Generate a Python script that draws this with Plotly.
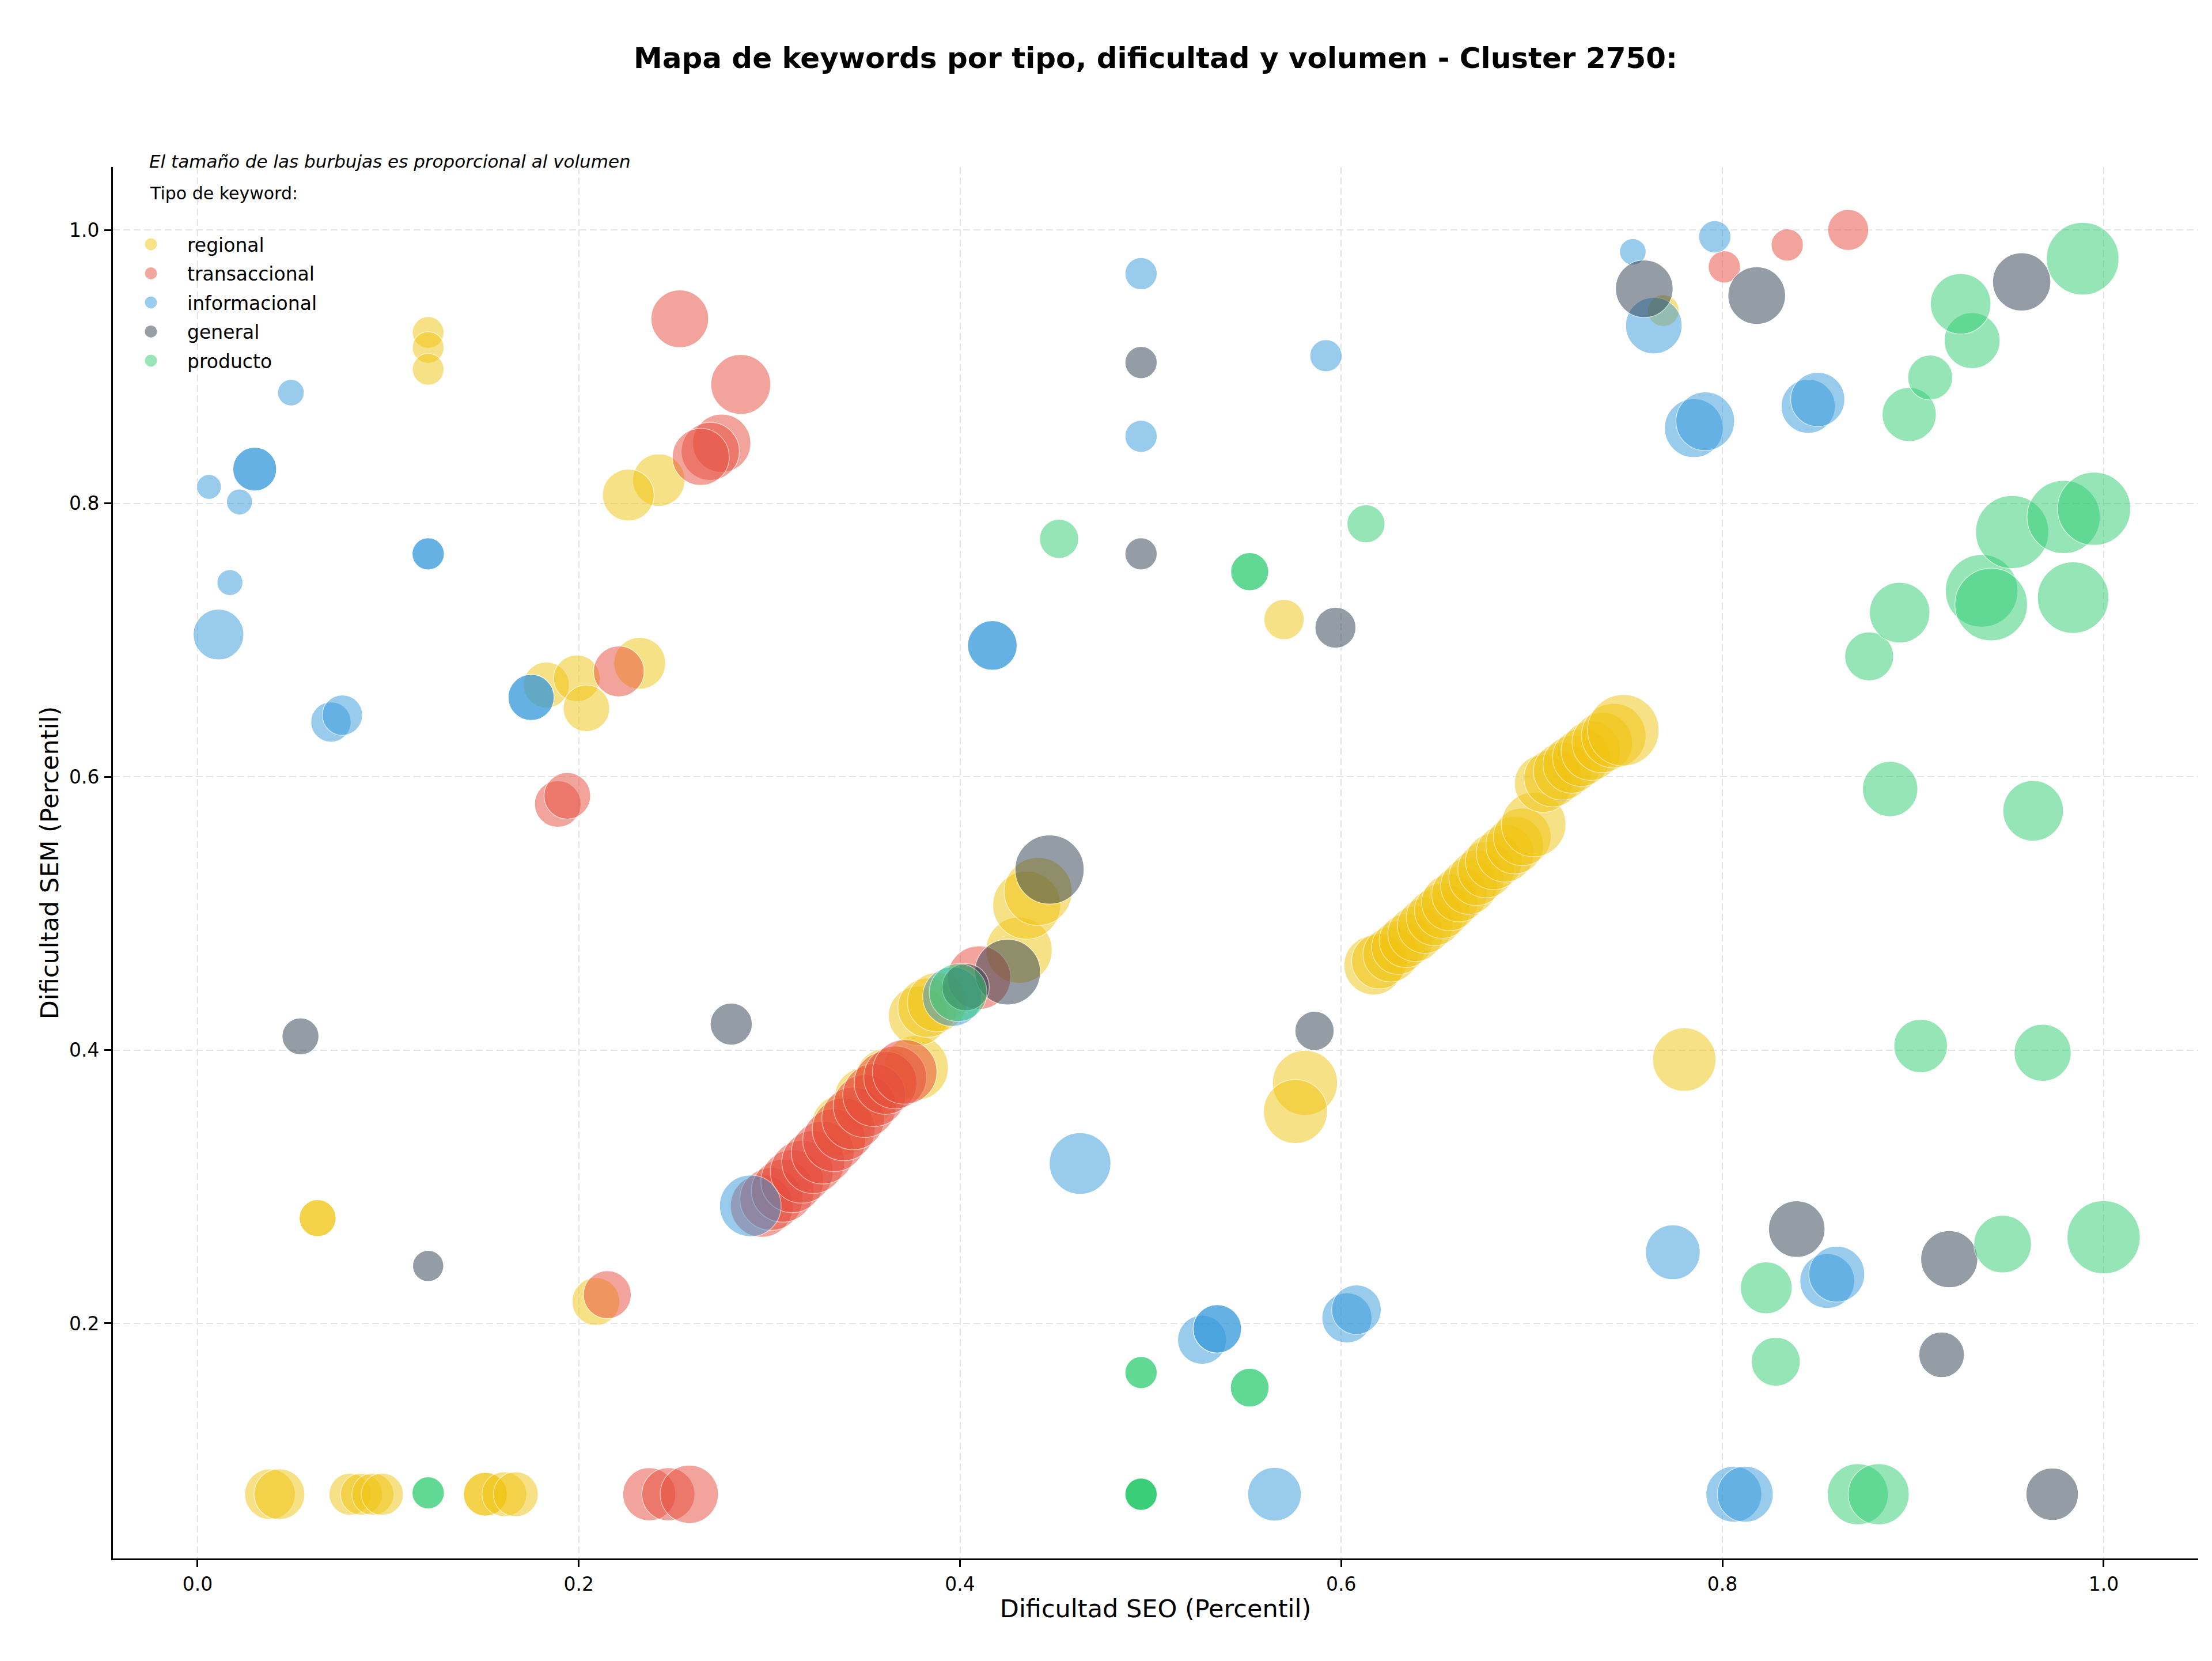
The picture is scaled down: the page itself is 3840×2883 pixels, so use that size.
import numpy as np
import plotly.graph_objects as go

# ---------------- data ----------------
categories = ["regional", "transaccional", "informacional", "general", "producto"]

reg_seo = [0.038, 0.043, 0.080, 0.086, 0.092, 0.097, 0.151, 0.151, 0.161, 0.167,
           0.063, 0.063, 0.121, 0.121, 0.121, 0.242, 0.226,
           0.183, 0.199, 0.204, 0.232, 0.209, 0.570, 0.581, 0.576, 0.780, 0.769,
           0.338, 0.350, 0.361, 0.377, 0.378, 0.383, 0.388, 0.431, 0.435, 0.441,
           0.617, 0.620, 0.626, 0.630, 0.634, 0.639, 0.644, 0.649, 0.653, 0.657,
           0.662, 0.667, 0.671, 0.676, 0.680, 0.686, 0.691, 0.695, 0.701,
           0.706, 0.711, 0.716, 0.721, 0.726, 0.731, 0.737, 0.743, 0.748]
reg_sem = [0.075, 0.075, 0.075, 0.075, 0.075, 0.075, 0.075, 0.075, 0.075, 0.075,
           0.277, 0.277, 0.925, 0.914, 0.898, 0.817, 0.806,
           0.667, 0.672, 0.650, 0.683, 0.216, 0.715, 0.376, 0.355, 0.393, 0.941,
           0.345, 0.365, 0.379, 0.387, 0.425, 0.431, 0.435, 0.473, 0.506, 0.516,
           0.462, 0.465, 0.470, 0.475, 0.480, 0.485, 0.491, 0.497, 0.502, 0.508,
           0.514, 0.520, 0.526, 0.532, 0.538, 0.544, 0.550, 0.556, 0.565,
           0.595, 0.599, 0.604, 0.609, 0.614, 0.619, 0.625, 0.630, 0.634]
reg_vol = [310, 310, 213, 213, 213, 213, 231, 231, 243, 243,
           164, 164, 121, 121, 121, 331, 324,
           256, 262, 262, 324, 276, 196, 511, 493, 484, 121,
           441, 441, 441, 502, 424, 424, 424, 529, 557, 557,
           424, 369, 369, 346, 346, 369, 369, 384, 369, 384,
           369, 384, 369, 384, 384, 400, 400, 400, 502,
           400, 400, 400, 400, 400, 424, 441, 502, 615]

tra_seo = [0.237, 0.247, 0.258, 0.253, 0.285, 0.275, 0.269, 0.264, 0.221,
           0.189, 0.194, 0.215, 0.801, 0.834, 0.866,
           0.296, 0.301, 0.307, 0.312, 0.317, 0.323, 0.328, 0.334, 0.339,
           0.344, 0.350, 0.355, 0.361, 0.366, 0.371, 0.410]
tra_sem = [0.075, 0.075, 0.075, 0.935, 0.887, 0.844, 0.838, 0.834, 0.677,
           0.580, 0.586, 0.221, 0.973, 0.989, 1.000,
           0.286, 0.291, 0.297, 0.304, 0.311, 0.318, 0.325, 0.334, 0.342,
           0.350, 0.359, 0.367, 0.376, 0.380, 0.384, 0.453]
tra_vol = [339, 339, 408, 400, 433, 408, 408, 392, 310,
           262, 262, 276, 125, 125, 202,
           475, 475, 475, 475, 475, 475, 475, 475, 475,
           475, 475, 475, 475, 475, 502, 484]

inf_seo = [0.049, 0.030, 0.030, 0.006, 0.022, 0.121, 0.121, 0.017, 0.011, 0.070,
           0.076, 0.175, 0.175, 0.417, 0.417, 0.495, 0.495, 0.592, 0.290, 0.396,
           0.463, 0.527, 0.535, 0.535, 0.603, 0.608, 0.565, 0.806, 0.812, 0.774,
           0.855, 0.860, 0.753, 0.796, 0.764, 0.785, 0.791, 0.845, 0.850]
inf_sem = [0.881, 0.825, 0.825, 0.812, 0.801, 0.763, 0.763, 0.742, 0.704, 0.640,
           0.645, 0.658, 0.658, 0.696, 0.696, 0.968, 0.849, 0.908, 0.286, 0.439,
           0.317, 0.188, 0.196, 0.196, 0.204, 0.210, 0.075, 0.075, 0.075, 0.252,
           0.231, 0.236, 0.984, 0.995, 0.930, 0.855, 0.860, 0.871, 0.876]
inf_vol = [85, 231, 231, 74, 81, 125, 125, 81, 310, 196,
           196, 256, 256, 296, 296, 125, 125, 125, 458, 424,
           458, 289, 282, 282, 303, 296, 346, 376, 376, 361,
           361, 376, 85, 125, 384, 416, 416, 353, 353]

gen_seo = [0.054, 0.280, 0.121, 0.495, 0.495, 0.597, 0.586, 0.447, 0.425, 0.403,
           0.839, 0.919, 0.915, 0.973, 0.759, 0.818, 0.957]
gen_sem = [0.410, 0.419, 0.242, 0.903, 0.763, 0.709, 0.414, 0.532, 0.457, 0.446,
           0.269, 0.247, 0.177, 0.075, 0.957, 0.952, 0.962]
gen_vol = [164, 213, 117, 125, 125, 202, 185, 576, 520, 269,
           384, 392, 250, 331, 400, 400, 408]

pro_seo = [0.121, 0.121, 0.495, 0.495, 0.495, 0.495, 0.495, 0.495, 0.552, 0.552,
           0.452, 0.552, 0.552, 0.613, 0.399, 0.871, 0.882, 0.823, 0.828, 0.947,
           1.000, 0.904, 0.968, 0.888, 0.963, 0.877, 0.893, 0.936, 0.941, 0.984,
           0.952, 0.979, 0.995, 0.898, 0.909, 0.931, 0.925, 0.989]
pro_sem = [0.076, 0.076, 0.075, 0.075, 0.075, 0.075, 0.164, 0.164, 0.153, 0.153,
           0.774, 0.750, 0.750, 0.785, 0.442, 0.075, 0.075, 0.226, 0.172, 0.258,
           0.263, 0.403, 0.398, 0.591, 0.575, 0.688, 0.720, 0.736, 0.726, 0.731,
           0.779, 0.790, 0.796, 0.865, 0.892, 0.919, 0.946, 0.979]
pro_vol = [125, 125, 125, 125, 125, 125, 125, 125, 180, 180,
           185, 174, 174, 174, 400, 449, 449, 324, 289, 400,
           645, 346, 392, 369, 441, 289, 441, 635, 635, 615,
           645, 645, 645, 353, 243, 376, 441, 635]

x_ticks = [0.0, 0.2, 0.4, 0.6, 0.8, 1.0]
y_ticks = [0.2, 0.4, 0.6, 0.8, 1.0]

# ---------------- styling ----------------
colors = {
    "regional": "#f1c40f",
    "transaccional": "#e74c3c",
    "informacional": "#3498db",
    "general": "#2c3e50",
    "producto": "#2ecc71",
}
# same colours at 50 % over white (for the legend swatches)
legend_colors = {
    "regional": "#f8e187",
    "transaccional": "#f3a69e",
    "informacional": "#9acced",
    "general": "#969ea8",
    "producto": "#97e6b8",
}
series = {
    "regional": (reg_seo, reg_sem, reg_vol),
    "transaccional": (tra_seo, tra_sem, tra_vol),
    "informacional": (inf_seo, inf_sem, inf_vol),
    "general": (gen_seo, gen_sem, gen_vol),
    "producto": (pro_seo, pro_sem, pro_vol),
}

FONT = "DejaVu Sans"
W, H = 3840, 2883
L, R, T, B = 196, 24, 290, 178
PW, PH = W - L - R, H - T - B

fig = go.Figure()
for cat in categories:
    xs, ys, vs = series[cat]
    sizes = 5.0 * np.sqrt(np.array(vs, dtype=float))
    fig.add_trace(go.Scatter(
        x=xs, y=ys, mode="markers", name=cat, legendgroup=cat, showlegend=False,
        marker=dict(size=sizes, sizemode="diameter", color=colors[cat],
                    opacity=0.5, line=dict(color="white", width=1.5)),
    ))
# legend entries (no data of their own)
for cat in categories:
    fig.add_trace(go.Scatter(
        x=[None], y=[None], mode="markers", name=cat, legendgroup=cat, showlegend=True,
        marker=dict(size=16, color=legend_colors[cat],
                    line=dict(color=legend_colors[cat], width=5)),
    ))

fig.update_layout(
    width=W, height=H,
    paper_bgcolor="white", plot_bgcolor="white",
    margin=dict(l=L, r=R, t=T, b=B, autoexpand=False),
    font=dict(family=FONT, size=33, color="black"),
    title=dict(text="<b>Mapa de keywords por tipo, dificultad y volumen - Cluster 2750:</b>",
               x=0.5, xref="paper", xanchor="center",
               y=1 - 100 / H, yref="container", yanchor="middle",
               font=dict(family=FONT, size=50, color="black")),
    showlegend=True,
    legend=dict(x=3 / PW, xanchor="left", y=1 - (396 - T) / PH, yanchor="top",
                bgcolor="rgba(0,0,0,0)", borderwidth=0,
                font=dict(family=FONT, size=33, color="black"),
                itemsizing="trace", itemwidth=116,
                tracegroupgap=4.6, traceorder="grouped"),
    annotations=[
        dict(text="<i>El tamaño de las burbujas es proporcional al volumen</i>",
             xref="paper", yref="paper", x=(257 - L) / PW, y=1 + (T - 280) / PH,
             xanchor="left", yanchor="middle", showarrow=False,
             font=dict(family=FONT, size=31, color="black")),
        dict(text="Tipo de keyword:",
             xref="paper", yref="paper", x=(258 - L) / PW, y=1 - (335 - T) / PH,
             xanchor="left", yanchor="middle", showarrow=False,
             font=dict(family=FONT, size=30, color="black")),
    ],
)

axis_common = dict(
    showline=True, linecolor="black", linewidth=2.7, mirror=False,
    ticks="outside", ticklen=12, tickwidth=2.7, tickcolor="black",
    showgrid=True, gridcolor="#e3e3e3", gridwidth=2, griddash="12px,6px",
    zeroline=False, tickformat=".1f", automargin=False,
    tickfont=dict(family=FONT, size=33, color="black"),
    ticklabelstandoff=2,
)
fig.update_xaxes(range=[-0.0444, 1.0496], tickvals=x_ticks,
                 title=dict(text="Dificultad SEO (Percentil)", font=dict(family=FONT, size=43), standoff=9),
                 **axis_common)
fig.update_yaxes(range=[0.028, 1.046], tickvals=y_ticks,
                 title=dict(text="Dificultad SEM (Percentil)", font=dict(family=FONT, size=43), standoff=6),
                 **axis_common)

fig.write_html("out.html")
